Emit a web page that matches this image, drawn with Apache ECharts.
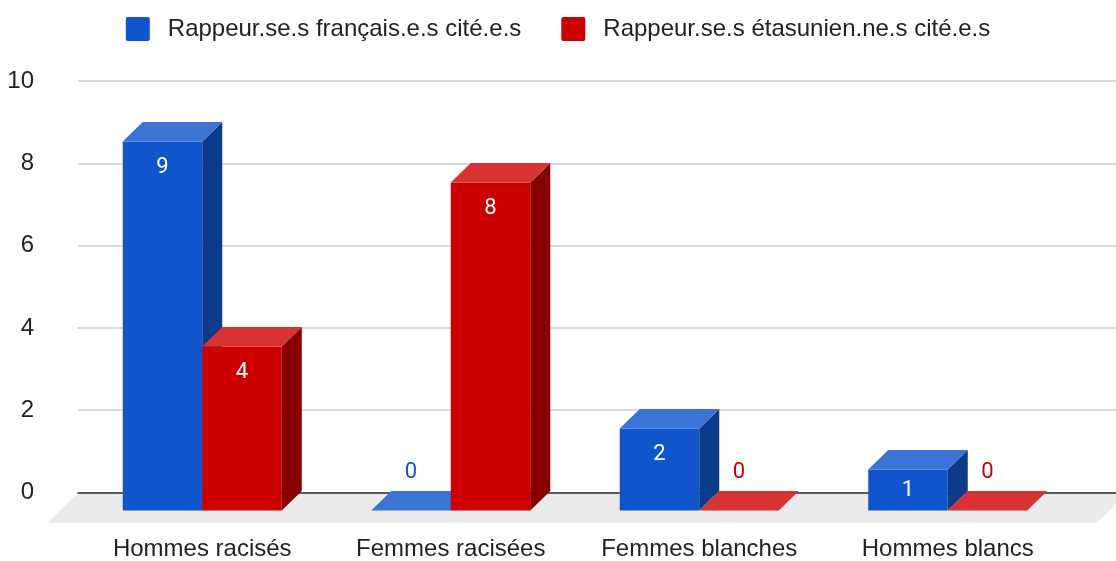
<!DOCTYPE html>
<html>
<head>
<meta charset="utf-8" />
<script src="https://cdn.jsdelivr.net/npm/echarts@6/dist/echarts.min.js"></script>
<style>
  html, body { margin: 0; padding: 0; background: #ffffff; }
  #chart { width: 1116px; height: 561px; }
</style>
</head>
<body>
<div id="chart"></div>
<script>
const categories = ["Hommes racisés", "Femmes racisées", "Femmes blanches", "Hommes blancs"];
const seriesNames = ["Rappeur.se.s français.e.s cité.e.s", "Rappeur.se.s étasunien.ne.s cité.e.s"];
const francais = [9, 0, 2, 1];
const etasuniens = [4, 8, 0, 0];
const yMin = 0;
const yMax = 10;
const yStep = 2;

// pseudo 3d look
const DEPTH_X = 20;
const DEPTH_Y = 19.5;
const BAR_RATIO = 0.32;
const GRID_TOP = 81;
const GRID_BOTTOM = 68.5;
const GRID_LEFT = 78;
const FONT = "'Liberation Sans', Arial, sans-serif";

const palettes = [
  { front: "#1155cc", top: "#3c74d6", side: "#0c3b8c" },
  { front: "#cc0000", top: "#d83333", side: "#860000" },
];

const chart = echarts.init(document.getElementById("chart"));

const makeRenderItem = (idx) => (params, api) => {
  const cat = api.value(0);
  const val = api.value(1);
  const base = api.coord([cat, 0]);
  const head = api.coord([cat, val]);
  const band = api.size([1, 0])[0];
  const w = band * BAR_RATIO;
  const x0 = base[0] - w + idx * w;
  const yBot = base[1] + DEPTH_Y;
  const yTop = head[1] + DEPTH_Y;
  const h = yBot - yTop;
  const c = palettes[idx];
  const children = [];

  if (h > 0.5) {
    children.push({
      type: "rect",
      shape: { x: x0, y: yTop, width: w, height: h },
      style: { fill: c.front },
    });
    children.push({
      type: "polygon",
      shape: {
        points: [
          [x0 + w, yTop],
          [x0 + w + DEPTH_X, yTop - DEPTH_Y],
          [x0 + w + DEPTH_X, yBot - DEPTH_Y],
          [x0 + w, yBot],
        ],
      },
      style: { fill: c.side },
    });
  }
  children.push({
    type: "polygon",
    shape: {
      points: [
        [x0, yTop],
        [x0 + w, yTop],
        [x0 + w + DEPTH_X, yTop - DEPTH_Y],
        [x0 + DEPTH_X, yTop - DEPTH_Y],
      ],
    },
    style: { fill: c.top },
  });

  let ly, lc;
  if (h > 0.5) {
    ly = yTop + Math.min(26, h / 2);
    lc = "#ffffff";
  } else {
    ly = yTop - DEPTH_Y - 19;
    lc = c.front;
  }
  children.push({
    type: "text",
    style: {
      text: String(val),
      x: x0 + w / 2,
      y: ly,
      fill: lc,
      font: "22px Roboto, sans-serif",
      align: "center",
      verticalAlign: "middle",
      textAlign: "center",
      textVerticalAlign: "middle",
    },
  });
  return { type: "group", children };
};

const legendIcon =
  "path://M2,0H22A2,2,0,0,1,24,2V22A2,2,0,0,1,22,24H2A2,2,0,0,1,0,22V2A2,2,0,0,1,2,0Z";

const option = {
  animation: false,
  backgroundColor: "#ffffff",
  legend: {
    top: 12,
    left: "center",
    itemWidth: 24,
    itemHeight: 24,
    itemGap: 40,
    icon: legendIcon,
    data: seriesNames,
    textStyle: {
      fontFamily: FONT,
      fontSize: 24,
      color: "#222222",
      padding: [0, 0, 0, 13],
    },
  },
  grid: [
    { left: GRID_LEFT, right: 44, top: GRID_TOP, bottom: GRID_BOTTOM },
    { left: GRID_LEFT, right: 0, top: GRID_TOP, bottom: GRID_BOTTOM },
  ],
  xAxis: [
    {
      type: "category",
      gridIndex: 0,
      data: categories,
      axisLine: { show: false },
      axisTick: { show: false },
      axisLabel: {
        interval: 0,
        margin: 46,
        fontFamily: FONT,
        fontSize: 24,
        color: "#222222",
      },
    },
    {
      type: "value",
      gridIndex: 1,
      min: 0,
      max: 1,
      axisLine: { show: true, lineStyle: { color: "#333333", width: 1.5 } },
      axisTick: { show: false },
      axisLabel: { show: false },
      splitLine: { show: false },
    },
  ],
  yAxis: [
    {
      type: "value",
      gridIndex: 0,
      min: yMin,
      max: yMax,
      interval: yStep,
      show: false,
      splitLine: { show: false },
    },
    {
      type: "value",
      gridIndex: 1,
      min: yMin,
      max: yMax,
      interval: yStep,
      axisLine: { show: false },
      axisTick: { show: false },
      axisLabel: {
        margin: 44,
        fontFamily: FONT,
        fontSize: 24,
        color: "#222222",
      },
      splitLine: { lineStyle: { color: "#cccccc", width: 1.5 } },
    },
  ],
  graphic: [],
  series: [francais, etasuniens].map((vals, idx) => ({
    name: seriesNames[idx],
    type: "custom",
    xAxisIndex: 0,
    yAxisIndex: 0,
    itemStyle: { color: palettes[idx].front },
    encode: { x: 0, y: 1 },
    data: vals.map((v, i) => [i, v]),
    renderItem: makeRenderItem(idx),
  })),
};

chart.setOption(option);

// grey floor under the bars, from the zero line down
const zero = chart.convertToPixel({ gridIndex: 1 }, [0, 0]);
const floorDepth = 30;
chart.setOption({
  graphic: [
    {
      type: "polygon",
      z: -10,
      silent: true,
      shape: {
        points: [
          [GRID_LEFT, zero[1] + 0.75],
          [1127, zero[1] + 0.75],
          [1127 - floorDepth, zero[1] + floorDepth],
          [GRID_LEFT - floorDepth, zero[1] + floorDepth],
        ],
      },
      style: { fill: "#ebebeb" },
    },
  ],
});
</script>
</body>
</html>
